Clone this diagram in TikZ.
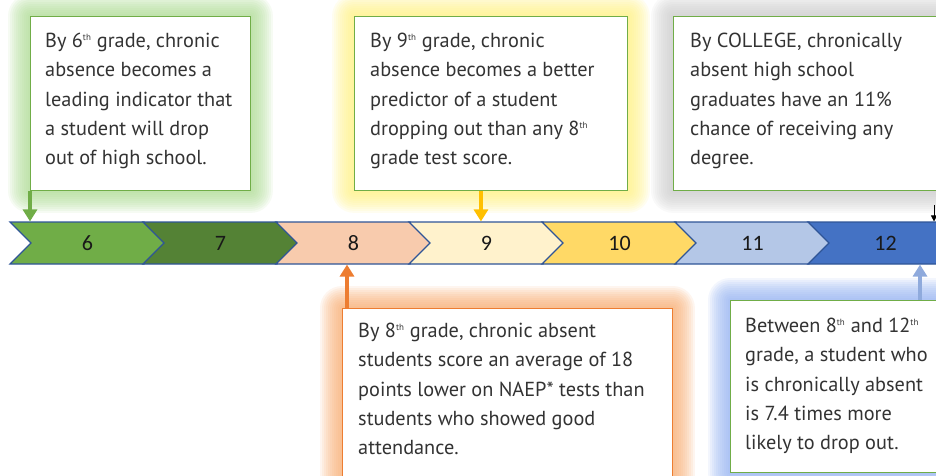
\documentclass[tikz,border=0pt]{standalone}
\usepackage{fontspec}
\setmainfont{PT Sans}
\newfontfamily\numfont{Carlito}
\usetikzlibrary{shapes.symbols,arrows.meta,backgrounds}
\definecolor{grade6}{HTML}{70AD47}
\definecolor{grade7}{HTML}{548235}
\definecolor{grade8}{HTML}{F8CBAD}
\definecolor{grade9}{HTML}{FFF2CC}
\definecolor{grade10}{HTML}{FFD966}
\definecolor{grade11}{HTML}{B4C7E7}
\definecolor{grade12}{HTML}{4472C4}
\definecolor{barblue}{HTML}{2F5597}
\definecolor{boxgreen}{HTML}{70AD47}
\definecolor{boxorange}{HTML}{ED7D31}
\definecolor{textgray}{HTML}{333333}
\definecolor{glow6}{HTML}{A9D98E}
\definecolor{glow9}{HTML}{FFF07A}
\definecolor{glowC}{HTML}{C8C8C8}
\definecolor{glow8}{HTML}{F7A86A}
\definecolor{glow12}{HTML}{8FAEF0}
\definecolor{arrow6}{HTML}{70AD47}
\definecolor{arrow9}{HTML}{FFC000}
\definecolor{arrow8}{HTML}{ED7D31}
\definecolor{arrow12}{HTML}{8FAADC}
\newcommand{\ord}[1]{\textsuperscript{\fontsize{9}{9}\selectfont #1}}

\begin{document}
\begin{tikzpicture}[
    x=1pt, y=-1pt,                          % Work in picture pixels
    factbox/.style={                        % Boxes holding the facts
        rectangle,                          % Rectangle shape
        anchor=north west,                  % Placed by the top left corner
        inner sep=0pt,
        fill=white,                         % White inside
        draw=boxgreen,                      % Border line color
        line width=0.9pt                    % Border line width
    },
    facttext/.style={                       % Text inside the boxes
        anchor=north west,
        inner sep=0pt,
        align=left,
        text=textgray,
        font=\fontsize{20.3}{29.3}\selectfont
    },
    grade/.style={                          % Chevrons of the time line
        shape=signal,
        signal from=west,                   % Notch on the left
        signal to=east,                     % Point on the right
        signal pointer angle=90,
        minimum width=155pt,
        minimum height=42pt,
        inner sep=0pt,
        draw=barblue,
        line width=1.1pt,
        text=black!90,
        font=\numfont\fontsize{22}{22}\selectfont
    },
    pointer/.style={                        % Arrows from boxes to grades
        line width=3.5pt,
        -{Triangle[width=14pt,length=12pt]}
    }
]
\useasboundingbox (0,0) rectangle (936,475);

% Time line, one chevron per grade
\foreach \g [count=\i from 0] in {6,...,12} {
    \node[grade, fill=grade\g] (c\g) at ({87.5+133*\i},243) {\g};
}

% Boxes above the time line
\node[factbox, minimum width=220pt, minimum height=174pt] (f6) at (30,16) {};
\node[facttext] (t6) at (45,33) {By 6\ord{th} grade, chronic\\absence becomes a\\leading indicator that\\a student will drop\\out of high school.};

\node[factbox, minimum width=273pt, minimum height=174pt] (f9) at (354,16) {};
\node[facttext] (t9) at (370,33) {By 9\ord{th} grade, chronic\\absence becomes a better\\predictor of a student\\dropping out than any 8\ord{th}\\grade test score.};

\node[factbox, minimum width=280pt, minimum height=174pt] (fC) at (673,16) {};
\node[facttext] (tC) at (690,33) {By COLLEGE, chronically\\absent high school\\graduates have an 11\%\\chance of receiving any\\degree.};

% Boxes below the time line
\node[factbox, draw=boxorange, minimum width=330pt, minimum height=190pt] (f8) at (342,308) {};
\node[facttext] (t8) at (358,323) {By 8\ord{th} grade, chronic absent\\students score an average of 18\\points lower on NAEP* tests than\\students who showed good\\attendance.};

\node[factbox, minimum width=220pt, minimum height=172pt] (f12) at (730,300) {};
\node[facttext] (t12) at (745,318) {Between 8\ord{th} and 12\ord{th}\\grade, a student who\\is chronically absent\\is 7.4 times more\\likely to drop out.};

% Soft glow behind each box
\begin{scope}[on background layer]
\foreach \b/\c in {f6/glow6, f9/glow9, fC/glowC, f8/glow8, f12/glow12} {
    \foreach \r in {2,4,...,22} {
        \fill[\c, opacity=0.11, rounded corners=\r pt]
            ([shift={(-\r,-\r)}]\b.north west) rectangle ([shift={(\r,\r)}]\b.south east);
    }
}
\end{scope}

% Arrows
\draw[pointer, arrow6] (f6.south west) -- (f6.south west |- c6.north);
\draw[pointer, arrow9] ([xshift=-10pt]f9.south) -- ([xshift=-10pt]f9.south |- c9.north);
\draw[pointer, arrow8] ([xshift=5pt]f8.north west) -- ([xshift=5pt]f8.north west |- c8.south);
\draw[pointer, arrow12] ([xshift=190pt]f12.north west) -- ([xshift=190pt]f12.north west |- c12.south);
\draw[black, line width=0.8pt, -{Triangle[width=6pt,length=6pt]}] ([shift={(261,14)}]fC.south west) -- ([xshift=261pt]fC.south west |- c12.north);

\end{tikzpicture}
\end{document}
